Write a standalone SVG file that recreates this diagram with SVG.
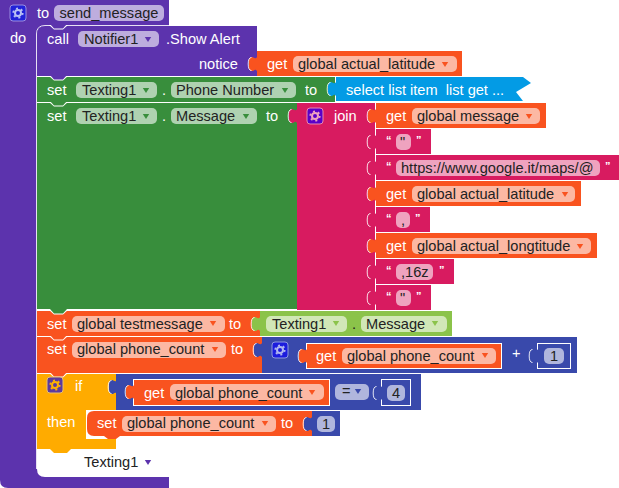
<svg xmlns="http://www.w3.org/2000/svg" xmlns:xlink="http://www.w3.org/1999/xlink" width="619" height="488" viewBox="0 0 619 488">
<style>
text{font-family:"Liberation Sans",Arial,sans-serif;font-size:14.6px}
.w{fill:#fff}.d{fill:#222}
text.q{fill:#fff;font-size:11px;font-weight:bold}
.pu{fill:#5c33ad}.gr{fill:#388e3c}.or{fill:#f9531f}.pk{fill:#d81b60}.bl{fill:#039be5}.in{fill:#3949ab}.am{fill:#ffab00}.lg{fill:#8bc34a}
.ppu{fill:#bdadde}.pgr{fill:#afd2b1}.por{fill:#fcb8a3}.ppk{fill:#efa3bf}.pin{fill:#b0b6dd}.plg{fill:#d1e7b7}
.ol{stroke:#fff;stroke-width:1}
</style>
<defs>
<g id="tab"><path d="M0 0C-2 3-3 0-5 0C-8 0-8 3-8 7C-8 11-8 14-5 14C-3 14-2 11 0 14Z"/><path d="M-5.500 0.500Q-8.800 0.500-8.800 7Q-8.800 13.500-5.500 13.500" fill="none" stroke="#fff" stroke-width="1" opacity=".85"/></g>
<g id="notch"><path d="M-1 0L4 4.500H13L18 0Z" fill="#fff"/><path d="M0-1L4 3.500H13L17-1Z"/></g>
<g id="gear"><rect x="-8" y="-8" width="16" height="16" rx="3" stroke-width="1"/><circle r="3" fill="none" stroke="currentColor" stroke-width="2"/><circle r="4.700" fill="none" stroke="currentColor" stroke-width="1.800" stroke-dasharray="2 2.900"/></g>
<path id="ar" d="M-3.200-2H3.200L0 3Z"/>
</defs>

<g id="procedure">
<path class="pu" d="M0 0H169V26H45Q37 26 37 34V469Q37 477 45 477H169V488H8Q0 488 0 480Z"/>
<path fill="none" stroke="#fff" stroke-width="1" opacity=".85" d="M36.500 469V34Q36.500 25.500 45 25.500H169"/>
<use href="#gear" x="18" y="13" fill="#2222d8" stroke="#9a8fe0" color="#b9c0f5"/>
<text class="w" x="37" y="18">to</text>
<rect class="ppu" x="54" y="5" width="110" height="16" rx="5"/>
<text class="d" x="59.500" y="18">send_message</text>
<text class="w" x="10" y="43">do</text>
</g>

<g id="call-notifier">
<path class="pu" d="M37 34Q37 26 45 26H257V76H37Z"/>
<use href="#notch" x="50" y="25" class="pu"/>
<text class="w" x="47" y="44">call</text>
<rect class="ppu" x="78" y="31" width="81" height="16" rx="5"/>
<text class="d" x="84" y="44">Notifier1</text>
<use href="#ar" x="148" y="39" class="pu"/>
<text class="w" x="166" y="44">.Show Alert</text>
<text class="w" x="199" y="69">notice</text>
</g>
<g id="get-latitude-1">
<rect class="or" x="257" y="51" width="205" height="25"/>
<use href="#tab" x="257" y="57" class="or"/>
<text class="w" x="267" y="69">get</text>
<rect class="por" x="293" y="56" width="164" height="16" rx="5"/>
<text class="d" x="298" y="69">global actual_latitude</text>
<use href="#ar" x="445" y="64" class="or"/>
</g>

<g id="set-phone-number">
<rect class="gr" x="37" y="77" width="298" height="25"/>
<use href="#notch" x="50" y="76" class="pu"/>
<text class="w" x="47" y="95">set</text>
<rect class="pgr" x="76" y="82" width="81" height="16" rx="5"/>
<text class="d" x="82" y="95">Texting1</text>
<use href="#ar" x="146" y="90" class="gr"/>
<text class="w" x="162" y="95">.</text>
<rect class="pgr" x="171" y="82" width="125" height="16" rx="5"/>
<text class="d" x="176" y="95">Phone Number</text>
<use href="#ar" x="285" y="90" class="gr"/>
<text class="w" x="305" y="95">to</text>
</g>
<g id="select-list-item">
<path class="bl" d="M336 77H523L531 83L516 92L523 101H336Z"/>
<use href="#tab" x="336" y="82" class="bl"/>
<text class="w" x="346" y="95">select list item&#160; list get ...</text>
</g>

<g id="set-message">
<rect class="gr" x="37" y="103" width="260" height="206"/>
<use href="#notch" x="50" y="102" class="gr"/>
<text class="w" x="47" y="121">set</text>
<rect class="pgr" x="76" y="108" width="81" height="16" rx="5"/>
<text class="d" x="82" y="121">Texting1</text>
<use href="#ar" x="146" y="116" class="gr"/>
<text class="w" x="162" y="121">.</text>
<rect class="pgr" x="171" y="108" width="86" height="16" rx="5"/>
<text class="d" x="176" y="121">Message</text>
<use href="#ar" x="246" y="116" class="gr"/>
<text class="w" x="266" y="121">to</text>
</g>
<g id="join">
<rect class="pk" x="297" y="103" width="78" height="207"/>
<use href="#tab" x="297" y="109" class="pk"/>
<use href="#gear" x="315" y="116" fill="#5a00c8" stroke="#e58ab0" color="#efa3bf"/>
<text class="w" x="334" y="121">join</text>
</g>

<g id="join-get-message">
<rect class="or" x="376" y="103" width="170" height="25"/>
<use href="#tab" x="376" y="109" class="or"/>
<text class="w" x="386" y="121">get</text>
<rect class="por" x="412" y="108" width="128" height="16" rx="5"/>
<text class="d" x="417" y="121">global message</text>
<use href="#ar" x="529" y="116" class="or"/>
</g>
<g id="join-text-quote-1">
<rect class="pk" x="376" y="129" width="55" height="25"/>
<use href="#tab" x="376" y="135" class="pk"/>
<text class="q" x="386" y="144">“</text>
<rect class="ppk" x="396" y="134" width="15" height="16" rx="5"/>
<text class="d" x="400" y="147">"</text>
<text class="q" x="416" y="144">”</text>
</g>
<g id="join-text-url">
<rect class="pk" x="376" y="155" width="243" height="25"/>
<use href="#tab" x="376" y="161" class="pk"/>
<text class="q" x="386" y="170">“</text>
<rect class="ppk" x="396" y="160" width="204" height="16" rx="5"/>
<text class="d" x="401" y="173">https://www.google.it/maps/@</text>
<text class="q" x="605" y="170">”</text>
</g>
<g id="join-get-latitude">
<rect class="or" x="376" y="181" width="205" height="25"/>
<use href="#tab" x="376" y="187" class="or"/>
<text class="w" x="386" y="199">get</text>
<rect class="por" x="412" y="186" width="163" height="16" rx="5"/>
<text class="d" x="417" y="199">global actual_latitude</text>
<use href="#ar" x="565" y="194" class="or"/>
</g>
<g id="join-text-comma">
<rect class="pk" x="376" y="207" width="54" height="25"/>
<use href="#tab" x="376" y="213" class="pk"/>
<text class="q" x="386" y="222">“</text>
<rect class="ppk" x="396" y="212" width="14" height="16" rx="5"/>
<text class="d" x="401" y="225">,</text>
<text class="q" x="415" y="222">”</text>
</g>
<g id="join-get-longtitude">
<rect class="or" x="376" y="233" width="221" height="25"/>
<use href="#tab" x="376" y="239" class="or"/>
<text class="w" x="386" y="251">get</text>
<rect class="por" x="412" y="238" width="179" height="16" rx="5"/>
<text class="d" x="417" y="251">global actual_longtitude</text>
<use href="#ar" x="580" y="246" class="or"/>
</g>
<g id="join-text-zoom">
<rect class="pk" x="376" y="259" width="78" height="25"/>
<use href="#tab" x="376" y="265" class="pk"/>
<text class="q" x="386" y="274">“</text>
<rect class="ppk" x="396" y="264" width="37" height="16" rx="5"/>
<text class="d" x="401" y="277">,16z</text>
<text class="q" x="439" y="274">”</text>
</g>
<g id="join-text-quote-2">
<rect class="pk" x="376" y="285" width="55" height="25"/>
<use href="#tab" x="376" y="291" class="pk"/>
<text class="q" x="386" y="300">“</text>
<rect class="ppk" x="396" y="290" width="15" height="16" rx="5"/>
<text class="d" x="400" y="303">"</text>
<text class="q" x="416" y="300">”</text>
</g>

<g id="set-testmessage">
<rect class="or" x="37" y="311" width="223" height="25"/>
<use href="#notch" x="50" y="310" class="gr"/>
<text class="w" x="47" y="329">set</text>
<rect class="por" x="72" y="316" width="153" height="16" rx="5"/>
<text class="d" x="77" y="329">global testmessage</text>
<use href="#ar" x="213" y="323" class="or"/>
<text class="w" x="229" y="329">to</text>
</g>
<g id="texting-message">
<rect class="lg" x="260" y="311" width="192" height="25"/>
<use href="#tab" x="260" y="317" class="lg"/>
<rect class="plg" x="266" y="316" width="81" height="16" rx="5"/>
<text class="d" x="272" y="329">Texting1</text>
<use href="#ar" x="336" y="323" class="lg"/>
<text class="d" x="352" y="329">.</text>
<rect class="plg" x="361" y="316" width="86" height="16" rx="5"/>
<text class="d" x="366" y="329">Message</text>
<use href="#ar" x="435" y="323" class="lg"/>
</g>

<g id="set-phone-count">
<rect class="or" x="37" y="337" width="225" height="36"/>
<use href="#notch" x="50" y="336" class="or"/>
<text class="w" x="47" y="354">set</text>
<rect class="por" x="72" y="342" width="154" height="16" rx="5"/>
<text class="d" x="77" y="354">global phone_count</text>
<use href="#ar" x="215" y="349" class="or"/>
<text class="w" x="231" y="354">to</text>
</g>
<g id="sum">
<rect class="in" x="262" y="337" width="315" height="36"/>
<use href="#tab" x="262" y="343" class="in"/>
<use href="#gear" x="280" y="350" fill="#1c1cdd" stroke="#8f9ae0" color="#b0b6f0"/>
<text class="w" x="512" y="358">+</text>
<rect class="in ol" x="537.500" y="343.500" width="33" height="25"/>
<use href="#tab" x="538" y="349" class="in"/>
<rect class="pin" x="544" y="348" width="20" height="16" rx="5"/>
<text class="d" x="550" y="361">1</text>
</g>
<g id="sum-get-phone-count">
<rect class="or ol" x="306.500" y="343.500" width="195" height="25"/>
<use href="#tab" x="307" y="349" class="or"/>
<text class="w" x="316" y="361">get</text>
<rect class="por" x="342" y="348" width="154" height="16" rx="5"/>
<text class="d" x="347" y="361">global phone_count</text>
<use href="#ar" x="485" y="355" class="or"/>
</g>

<g id="if-block">
<rect class="am" x="37" y="374" width="79" height="75"/>
<use href="#notch" x="50" y="373" class="or"/>
<use href="#gear" x="55" y="385" fill="#5c3a9e" stroke="#e8c070" color="#ffb300"/>
<text class="w" x="75" y="391">if</text>
<text class="w" x="47" y="427">then</text>
<path class="am" d="M50 449L54 453H67L71 449Z"/>
</g>
<g id="equals">
<rect class="in" x="116" y="374" width="305" height="36"/>
<use href="#tab" x="117" y="380" class="in"/>
<rect class="pin" x="335" y="384" width="34" height="16" rx="5"/>
<text class="d" x="342" y="396">=</text>
<use href="#ar" x="358" y="391" class="in"/>
<rect class="in ol" x="381.500" y="379.500" width="29" height="26"/>
<use href="#tab" x="382" y="386" class="in"/>
<rect class="pin" x="387" y="385" width="18" height="16" rx="5"/>
<text class="d" x="392" y="398">4</text>
</g>
<g id="equals-get-phone-count">
<rect class="or ol" x="133.500" y="379.500" width="196" height="26"/>
<use href="#tab" x="134" y="385" class="or"/>
<text class="w" x="144" y="398">get</text>
<rect class="por" x="170" y="384" width="154" height="16" rx="5"/>
<text class="d" x="175" y="398">global phone_count</text>
<use href="#ar" x="312" y="392" class="or"/>
</g>
<g id="then-set-phone-count">
<rect x="86" y="410" width="30" height="29" fill="#fff"/>
<path class="or" d="M87 418Q87 411 94 411H312V436H120L116 439H108L104 436H94Q87 436 87 429Z"/>
<text class="w" x="97" y="428">set</text>
<rect class="por" x="122" y="416" width="154" height="16" rx="5"/>
<text class="d" x="127" y="428">global phone_count</text>
<use href="#ar" x="265" y="423" class="or"/>
<text class="w" x="281" y="428">to</text>
</g>
<g id="number-1">
<rect class="in" x="312" y="411" width="28" height="25"/>
<use href="#tab" x="312" y="417" class="in"/>
<rect class="pin" x="317" y="416" width="18" height="16" rx="5"/>
<text class="d" x="322" y="429">1</text>
</g>
<g id="texting1-component">
<text class="d" x="84" y="467">Texting1</text>
<use href="#ar" x="148" y="462" class="pu"/>
</g>
</svg>
